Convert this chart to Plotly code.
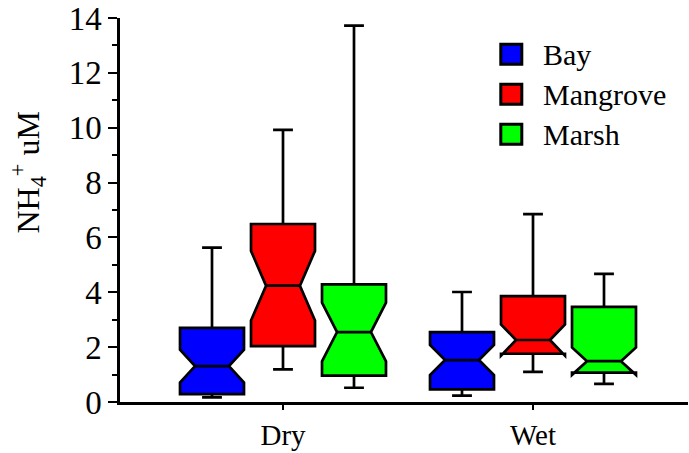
import plotly.graph_objects as go

# ---- data ----
seasons = ["Dry", "Wet"]
series_names = ["Bay", "Mangrove", "Marsh"]
series_colors = ["#0000FF", "#FF0000", "#00FF00"]

bay_lower = [0.17, 0.23]
bay_q1 = [0.29, 0.46]
bay_median = [1.31, 1.53]
bay_q3 = [2.70, 2.55]
bay_upper = [5.63, 4.01]
bay_notch = [0.60, 0.55]

mangrove_lower = [1.19, 1.10]
mangrove_q1 = [2.04, 1.76]
mangrove_median = [4.24, 2.26]
mangrove_q3 = [6.49, 3.86]
mangrove_upper = [9.92, 6.85]
mangrove_notch = [1.27, 0.57]

marsh_lower = [0.52, 0.66]
marsh_q1 = [0.96, 1.07]
marsh_median = [2.55, 1.49]
marsh_q3 = [4.29, 3.47]
marsh_upper = [13.72, 4.67]
marsh_notch = [1.07, 0.50]

y_ticks = [0, 2, 4, 6, 8, 10, 12, 14]

stats = [
    (bay_lower, bay_q1, bay_median, bay_q3, bay_upper, bay_notch),
    (mangrove_lower, mangrove_q1, mangrove_median, mangrove_q3, mangrove_upper, mangrove_notch),
    (marsh_lower, marsh_q1, marsh_median, marsh_q3, marsh_upper, marsh_notch),
]

FONT = "Liberation Serif, Times New Roman, serif"

fig = go.Figure()
for name, color, (lo, q1, med, q3, hi, nt) in zip(series_names, series_colors, stats):
    fig.add_trace(go.Box(
        name=name,
        x=seasons,
        lowerfence=lo, q1=q1, median=med, q3=q3, upperfence=hi,
        notched=True, notchspan=nt, notchwidth=0.235,
        whiskerwidth=0.31,
        fillcolor=color,
        line=dict(color="black", width=2.7),
        boxpoints=False,
        showlegend=False,
        hoverinfo="skip",
    ))

# legend drawn as boxes + labels
shapes = []
annotations = []
leg_x0, leg_x1 = 0.6704, 0.7074
leg_centers = [0.9057, 0.8013, 0.6971]
leg_h = 0.052
for name, color, yc in zip(series_names, series_colors, leg_centers):
    shapes.append(dict(type="rect", xref="paper", yref="paper",
                       x0=leg_x0, x1=leg_x1, y0=yc - leg_h / 2, y1=yc + leg_h / 2,
                       fillcolor=color, line=dict(color="black", width=3)))
    annotations.append(dict(xref="paper", yref="paper", x=0.741, y=yc,
                            xanchor="left", yanchor="middle", showarrow=False,
                            text=name, font=dict(family=FONT, size=30, color="black")))

annotations.append(dict(xref="paper", yref="paper", x=-0.162, y=0.60,
                        xanchor="center", yanchor="middle", showarrow=False,
                        textangle=-90, text="NH<sub>4</sub><sup>+</sup> uM",
                        font=dict(family=FONT, size=32, color="black")))

fig.update_layout(
    width=689, height=453,
    margin=dict(l=120, r=1, t=18, b=51),
    paper_bgcolor="white", plot_bgcolor="white",
    boxmode="group", boxgap=0.148, boxgroupgap=0.099,
    font=dict(family=FONT, size=29, color="black"),
    shapes=shapes, annotations=annotations,
    showlegend=False,
)
fig.update_xaxes(
    range=[-0.652, 1.62], showline=True, linecolor="black", linewidth=2.5,
    ticks="outside", ticklen=5, tickwidth=2, tickcolor="black",
    showgrid=False, zeroline=False,
    tickfont=dict(family=FONT, size=29, color="black"),
)
fig.update_yaxes(
    range=[0, 14], tickvals=y_ticks, showline=True, linecolor="black", linewidth=2.5,
    ticks="outside", ticklen=9, tickwidth=2, tickcolor="black",
    minor=dict(dtick=1, ticks="outside", ticklen=5, tickwidth=2, tickcolor="black"),
    showgrid=False, zeroline=False,
    tickfont=dict(family=FONT, size=33, color="black"),
)

fig.write_html("out.html",
               config={"displayModeBar": False},
               post_script="document.body.style.margin='0';document.body.style.overflow='hidden';")
